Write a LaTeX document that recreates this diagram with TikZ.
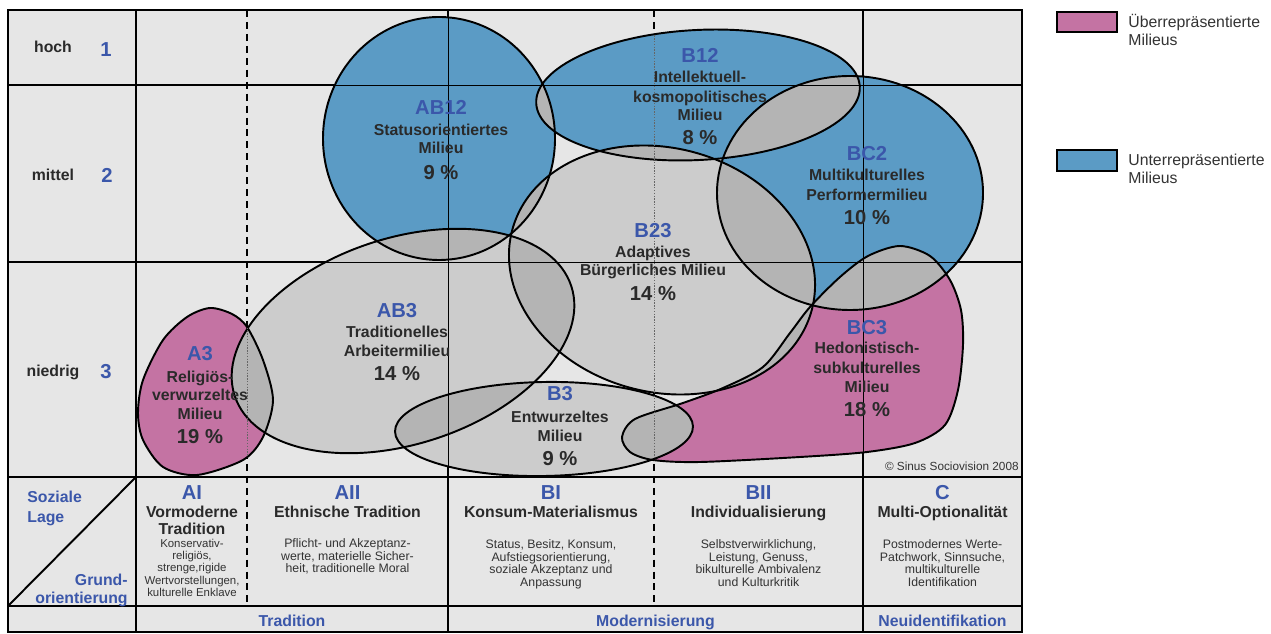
\documentclass[tikz,border=0pt]{standalone}
\usepackage{fontspec}
\setmainfont{Liberation Sans}
\definecolor{bgc}{HTML}{E6E6E6}
\definecolor{shg}{HTML}{CCCCCC}
\definecolor{ovl}{HTML}{B4B4B4}
\definecolor{blu}{HTML}{5B9BC5}
\definecolor{pnk}{HTML}{C473A3}
\definecolor{lblue}{HTML}{3B57AA}
\definecolor{txt}{HTML}{2A2A2A}
\definecolor{stxt}{HTML}{333333}
\def\shAB{(439,138.5) ellipse [x radius=116, y radius=121.5]}
\def\shBT{(698,95) ellipse [x radius=162, y radius=65, rotate=3]}
\def\shBCT{(850,193) ellipse [x radius=133, y radius=117]}
\def\shBTT{(662,270) ellipse [x radius=155, y radius=122, rotate=-15]}
\def\shABD{(403,341) ellipse [x radius=177, y radius=103, rotate=18]}
\def\shBD{(544,429) ellipse [x radius=149, y radius=47, rotate=1]}
\def\shAD{plot [smooth cycle] coordinates {(210,308) (232,314) (247,327) (263,360) (273,400) (263,437) (243,460) (197,475) (163,467) (143,440) (138,413) (143,380) (163,340) (187,317)}}
\def\shBCD{plot [smooth cycle] coordinates {(622,437) (635,419) (683,403) (723,388) (763,367) (790,333) (810,307) (840,277) (868,256) (900,246) (930,256) (950,280) (961,310) (963,345) (958,390) (945,425) (915,443) (867,452) (800,457) (700,462) (653,460) (630,452)}}
\newcommand\ovlap[2]{\begin{scope}\clip #1;\fill[ovl] #2;\end{scope}}
\begin{document}
\begin{tikzpicture}[x=0.02cm,y=-0.02cm,
  gridthick/.style={line width=1.1pt, black},
  griddash/.style={line width=1.1pt, black, dash pattern=on 4pt off 2.8pt},
  gridthin/.style={line width=0.5pt, black},
  griddot/.style={line width=0.35pt, black!60, dash pattern=on 0.8pt off 0.8pt},
  outl/.style={line width=1.1pt, black},
  nm/.style={anchor=base, inner sep=0pt, font=\fontsize{11.5}{13}\selectfont\bfseries, text=lblue},
  bd/.style={anchor=base, inner sep=0pt, font=\fontsize{9}{10.6}\selectfont\bfseries, text=txt},
  pc/.style={anchor=base, inner sep=0pt, font=\fontsize{11.5}{13}\selectfont\bfseries, text=txt},
  sm/.style={anchor=north, inner sep=0pt, align=center, font=\fontsize{7}{7.1}\selectfont, text=stxt},
  smA/.style={anchor=north, inner sep=0pt, align=center, font=\fontsize{6.5}{7.1}\selectfont, text=stxt},
  bl/.style={anchor=base, inner sep=0pt, font=\fontsize{9}{10.6}\selectfont\bfseries, text=lblue},
  leg/.style={anchor=base west, inner sep=0pt, font=\fontsize{9}{10.6}\selectfont, text=stxt},
  ]
\useasboundingbox (0,0) rectangle (1271,634);
% background table
\fill[bgc] (8,10) rectangle (1022,632);
\draw[gridthick] (136,10) -- (136,632);
\draw[gridthick] (448,10) -- (448,632);
\draw[gridthick] (863,10) -- (863,632);
\draw[gridthick] (8,85) -- (1022,85);
\draw[gridthick] (8,262) -- (1022,262);
\draw[gridthick] (8,477) -- (1022,477);
\draw[gridthick] (8,606) -- (1022,606);
\draw[griddash] (247,10) -- (247,606);
\draw[griddash] (654,10) -- (654,606);
\draw[gridthick] (136,477) -- (8,606);
\draw[gridthick] (8,10) rectangle (1022,632);
% shapes
\fill[blu] \shAB;
\fill[blu] \shBT;
\fill[blu] \shBCT;
\fill[shg] \shBTT;
\fill[shg] \shABD;
\fill[shg] \shBD;
\fill[pnk] \shAD;
\fill[pnk] \shBCD;
\ovlap{\shAB}{\shBT}
\ovlap{\shAB}{\shBTT}
\ovlap{\shAB}{\shABD}
\ovlap{\shBT}{\shBTT}
\ovlap{\shBT}{\shBCT}
\ovlap{\shBCT}{\shBTT}
\ovlap{\shBCT}{\shBCD}
\ovlap{\shBTT}{\shABD}
\ovlap{\shBTT}{\shBD}
\ovlap{\shBTT}{\shBCD}
\ovlap{\shABD}{\shAD}
\ovlap{\shABD}{\shBD}
\ovlap{\shBD}{\shBCD}
\draw[outl] \shAB;
\draw[outl] \shBT;
\draw[outl] \shBCT;
\draw[outl] \shBTT;
\draw[outl] \shABD;
\draw[outl] \shBD;
\draw[outl] \shAD;
\draw[outl] \shBCD;
% grid lines seen through the shapes
\draw[gridthin] (448,10) -- (448,477);
\draw[gridthin] (863,10) -- (863,477);
\draw[gridthin] (136,85) -- (1022,85);
\draw[gridthin] (136,262) -- (1022,262);
\begin{scope}\clip \shAD; \draw[griddot] (247,10) -- (247,477);\end{scope}
\begin{scope}\clip \shABD; \draw[griddot] (247,10) -- (247,477);\end{scope}
\begin{scope}\clip \shBT; \draw[griddot] (654,10) -- (654,477);\end{scope}
\begin{scope}\clip \shBTT; \draw[griddot] (654,10) -- (654,477);\end{scope}
\begin{scope}\clip \shBD; \draw[griddot] (654,10) -- (654,477);\end{scope}
\begin{scope}\clip \shBCD; \draw[griddot] (654,10) -- (654,477);\end{scope}
% row labels
\node[bd] (rh) at (53,52.7) {hoch};
\node[nm] (r1) at (106,56.3) {1};
\node[bd] (rm) at (53,180.7) {mittel};
\node[nm] (r2) at (107,182.3) {2};
\node[bd] (rn) at (53,376.7) {niedrig};
\node[nm] (r3) at (106,378.3) {3};
% AB12
\node[nm] (n1) at (441,114.3) {AB12};
\node[bd] (n2) at (441,135.7) {Statusorientiertes};
\node[bd] (n3) at (441,153.7) {Milieu};
\node[pc] (n4) at (441,179.3) {9 \%};
% B12
\node[nm] (n5) at (700,62.3) {B12};
\node[bd] (n6) at (700,82.7) {Intellektuell-};
\node[bd] (n7) at (700,102.7) {kosmopolitisches};
\node[bd] (n8) at (700,120.7) {Milieu};
\node[pc] (n9) at (700,144.3) {8 \%};
% BC2
\node[nm] (n10) at (867,160.3) {BC2};
\node[bd] (n11) at (867,180.7) {Multikulturelles};
\node[bd] (n12) at (867,200.7) {Performermilieu};
\node[pc] (n13) at (867,224.3) {10 \%};
% B23
\node[nm] (n14) at (653,237.3) {B23};
\node[bd] (n15) at (653,257.7) {Adaptives};
\node[bd] (n16) at (653,275.7) {Bürgerliches Milieu};
\node[pc] (n17) at (653,300.3) {14 \%};
% AB3
\node[nm] (n18) at (397,317.3) {AB3};
\node[bd] (n19) at (397,337.7) {Traditionelles};
\node[bd] (n20) at (397,356.7) {Arbeitermilieu};
\node[pc] (n21) at (397,380.3) {14 \%};
% A3
\node[nm] (n22) at (200,360.3) {A3};
\node[bd] (n23) at (200,382.7) {Religiös-};
\node[bd] (n24) at (200,400.7) {verwurzeltes};
\node[bd] (n25) at (200,419.7) {Milieu};
\node[pc] (n26) at (200,443.3) {19 \%};
% B3
\node[nm] (n27) at (560,400.3) {B3};
\node[bd] (n28) at (560,422.7) {Entwurzeltes};
\node[bd] (n29) at (560,441.7) {Milieu};
\node[pc] (n30) at (560,465.3) {9 \%};
% BC3
\node[nm] (n31) at (867,334.3) {BC3};
\node[bd] (n32) at (867,353.7) {Hedonistisch-};
\node[bd] (n33) at (867,373.7) {subkulturelles};
\node[bd] (n34) at (867,392.7) {Milieu};
\node[pc] (n35) at (867,416.3) {18 \%};
% copyright
\node[anchor=base east, inner sep=0pt, font=\fontsize{6.7}{8}\selectfont, text=stxt] (cp) at (1019,470.2) {© Sinus Sociovision 2008};
% bottom headers
\node[bl, anchor=base west] (sz1) at (27,502.7) {Soziale};
\node[bl, anchor=base west] (sz2) at (27,522.4) {Lage};
\node[bl, anchor=base east] (gr1) at (128,585.7) {Grund-};
\node[bl, anchor=base east] (gr2) at (128,603.2) {orientierung};
\node[nm] (h1) at (192,499.3) {AI};
\node[bd] (h1a) at (192,517.7) {Vormoderne};
\node[bd] (h1b) at (192,534.7) {Tradition};
\node[smA] (h1c) at (192,538.4) {Konservativ-\\religiös,\\strenge,rigide\\Wertvorstellungen,\\kulturelle Enklave};
\node[nm] (h2) at (347.5,499.3) {AII};
\node[bd] (h2a) at (347.5,517.7) {Ethnische Tradition};
\node[sm] (h2c) at (347.5,538.4) {Pflicht- und Akzeptanz-\\werte, materielle Sicher-\\heit, traditionelle Moral};
\node[nm] (h3) at (551,499.3) {BI};
\node[bd] (h3a) at (551,517.7) {Konsum-Materialismus};
\node[sm] (h3c) at (551,539.4) {Status, Besitz, Konsum,\\Aufstiegsorientierung,\\soziale Akzeptanz und\\Anpassung};
\node[nm] (h4) at (758.5,499.3) {BII};
\node[bd] (h4a) at (758.5,517.7) {Individualisierung};
\node[sm] (h4c) at (758.5,539.4) {Selbstverwirklichung,\\Leistung, Genuss,\\bikulturelle Ambivalenz\\und Kulturkritik};
\node[nm] (h5) at (942.5,499.3) {C};
\node[bd] (h5a) at (942.5,517.7) {Multi-Optionalität};
\node[sm] (h5c) at (942.5,539.4) {Postmodernes Werte-\\Patchwork, Sinnsuche,\\multikulturelle\\Identifikation};
\node[bl] (f1) at (292,626.7) {Tradition};
\node[bl] (f2) at (655.5,626.7) {Modernisierung};
\node[bl] (f3) at (942.5,626.7) {Neuidentifikation};
% legend
\draw[line width=1pt, fill=pnk] (1057,12) rectangle (1117,32);
\draw[line width=1pt, fill=blu] (1057,150) rectangle (1117,171);
\node[leg] (l1) at (1128,27.7) {Überrepräsentierte};
\node[leg] (l2) at (1128,45.7) {Milieus};
\node[leg] (l3) at (1128,165.7) {Unterrepräsentierte};
\node[leg] (l4) at (1128,183.7) {Milieus};
\end{tikzpicture}
\end{document}
